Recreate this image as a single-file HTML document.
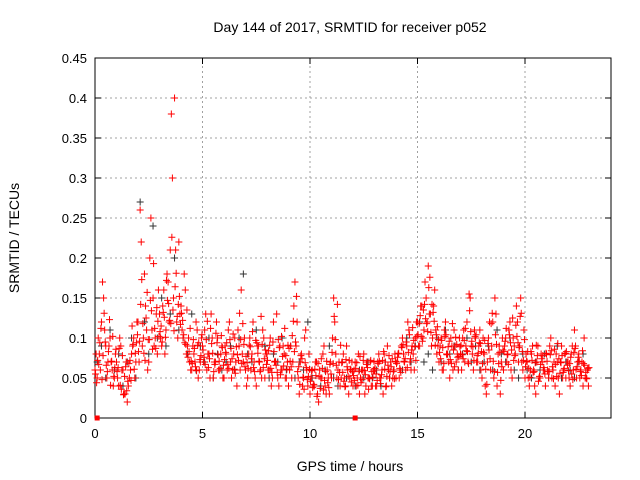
<!DOCTYPE html>
<html><head><meta charset="utf-8"><style>
body{margin:0;background:#fff;}
svg{display:block;font-family:"Liberation Sans",sans-serif;}
</style></head><body>
<svg id="chart" width="640" height="480" xmlns="http://www.w3.org/2000/svg">
<rect width="640" height="480" fill="#fff"/>
<g id="grid"></g><g id="axes"></g><g id="marks"></g>
<text x="350" y="32" text-anchor="middle" font-size="14">Day 144 of 2017, SRMTID for receiver p052</text>
<text x="350" y="471" text-anchor="middle" font-size="14">GPS time / hours</text>
<text transform="translate(19,238) rotate(-90)" text-anchor="middle" font-size="14">SRMTID / TECUs</text>
</svg>
<script>
const xTicks=[0,5,10,15,20];
const yTicks=[0,0.05,0.1,0.15,0.2,0.25,0.3,0.35,0.4,0.45];
const yTickLabels=["0","0.05","0.1","0.15","0.2","0.25","0.3","0.35","0.4","0.45"];
const red1=[.06,.05,.08,.12,.15,.09,.07,.10,.06,.05,
.07,.04,.09,.06,.03,.02,.05,.08,.10,.07,
.12,.26,.09,.18,.11,.07,.25,.15,.10,.08,
.13,.09,.16,.11,.17,.21,.30,.40,.12,.22,
.14,.10,.16,.09,.07,.06,.08,.12,.05,.07,
.09,.11,.06,.08,.13,.05,.07,.10,.06,.09,
.05,.08,.11,.07,.06,.10,.04,.09,.16,.07,
.06,.05,.10,.08,.07,.04,.09,.06,.11,.05,
.08,.06,.04,.12,.07,.05,.09,.06,.08,.05,
.04,.09,.07,.17,.12,.03,.08,.05,.11,.04,
.03,.06,.04,.07,.02,.05,.08,.04,.06,.03,
.05,.15,.08,.06,.04,.07,.05,.09,.03,.06,
.04,.07,.05,.03,.06,.08,.04,.05,.07,.04,
.06,.04,.08,.05,.03,.07,.09,.05,.04,.06,
.05,.08,.06,.10,.07,.09,.11,.06,.08,.10,
.12,.09,.14,.11,.15,.19,.13,.10,.16,.08,
.07,.10,.06,.12,.08,.05,.09,.11,.07,.06,
.08,.10,.07,.12,.155,.09,.06,.10,.07,.11,
.05,.08,.03,.10,.06,.12,.15,.04,.09,.07,
.06,.10,.08,.12,.05,.09,.14,.07,.15,.06,
.05,.07,.04,.08,.06,.03,.09,.05,.07,.06,
.08,.05,.10,.06,.04,.07,.03,.09,.06,.05,
.07,.04,.09,.11,.05,.08,.06,.04,.05,.06];
const red2=[.08,.10,.06,.17,.11,.05,.09,.07,.04,.08,
.05,.10,.06,.03,.07,.04,.06,.09,.05,.12,
.07,.22,.10,.14,.06,.20,.11,.09,.13,.16,
.10,.14,.08,.18,.12,.38,.15,.21,.10,.13,
.11,.18,.08,.10,.06,.09,.07,.11,.06,.10,
.07,.13,.08,.05,.10,.07,.12,.06,.08,.05,
.09,.06,.12,.05,.08,.07,.11,.06,.08,.10,
.04,.08,.06,.12,.05,.09,.07,.05,.10,.08,
.06,.10,.05,.07,.13,.04,.06,.09,.05,.07,
.06,.05,.14,.09,.05,.07,.04,.10,.06,.08,
.05,.04,.07,.03,.06,.05,.09,.03,.05,.07,
.10,.12,.05,.07,.05,.08,.04,.06,.05,.07,
.06,.04,.08,.05,.06,.03,.07,.05,.04,.06,
.04,.07,.05,.06,.08,.04,.06,.07,.05,.08,
.07,.05,.09,.08,.06,.12,.07,.09,.06,.12,
.09,.14,.10,.17,.12,.13,.09,.14,.11,.09,
.09,.06,.11,.08,.07,.10,.06,.09,.08,.10,
.06,.11,.09,.07,.15,.08,.11,.07,.09,.06,
.10,.04,.07,.12,.09,.05,.13,.08,.03,.10,
.09,.07,.11,.06,.10,.08,.12,.09,.07,.11,
.08,.05,.06,.09,.04,.07,.05,.08,.06,.04,
.06,.09,.05,.07,.08,.05,.07,.05,.08,.07,
.05,.08,.06,.09,.07,.05,.07,.10,.05,.04];
const red3=[.055,.072,.094,.048,.131,.066,.083,.041,.102,.063,
.058,.087,.036,.029,.064,.046,.072,.115,.061,.094,
.083,.142,.118,.072,.157,.098,.134,.193,.087,.121,
.108,.095,.126,.172,.143,.118,.135,.164,.127,.152,
.131,.104,.092,.076,.112,.068,.087,.059,.094,.078,
.085,.067,.121,.074,.093,.058,.106,.079,.062,.088,
.073,.094,.062,.087,.105,.056,.079,.131,.068,.092,
.077,.062,.089,.108,.058,.094,.071,.127,.063,.085,
.072,.091,.057,.083,.066,.098,.054,.077,.112,.061,
.087,.064,.121,.095,.058,.042,.074,.036,.063,.052,
.046,.038,.061,.027,.052,.074,.035,.058,.044,.067,
.082,.127,.066,.048,.091,.057,.039,.064,.072,.045,
.053,.062,.041,.077,.048,.059,.067,.036,.072,.051,
.062,.047,.071,.054,.083,.039,.066,.058,.074,.049,
.068,.081,.057,.092,.074,.063,.104,.085,.097,.072,
.104,.128,.096,.142,.118,.163,.107,.132,.091,.114,
.082,.097,.068,.104,.089,.073,.118,.064,.092,.077,
.091,.074,.112,.083,.134,.096,.072,.104,.081,.093,
.068,.097,.042,.085,.118,.071,.104,.057,.082,.064,
.083,.112,.067,.094,.125,.078,.102,.088,.131,.072,
.064,.083,.051,.072,.058,.091,.046,.067,.078,.055,
.071,.058,.084,.049,.067,.093,.056,.078,.062,.083,
.059,.076,.048,.087,.064,.071,.053,.068,.057,.062];
const red4=[.044,.067,.112,.078,.095,.058,.123,.071,.052,.086,
.063,.041,.078,.052,.034,.068,.047,.092,.081,.104,
.096,.173,.081,.125,.098,.147,.086,.112,.138,.102,
.115,.132,.101,.147,.122,.226,.109,.181,.142,.117,
.122,.094,.135,.083,.071,.098,.064,.091,.073,.104,
.076,.098,.063,.112,.081,.067,.094,.071,.103,.066,
.082,.067,.098,.074,.061,.089,.072,.098,.118,.064,
.069,.091,.074,.063,.097,.081,.058,.092,.074,.067,
.084,.062,.095,.071,.057,.088,.102,.065,.078,.091,
.071,.103,.083,.152,.064,.078,.051,.069,.048,.061,
.059,.042,.053,.068,.037,.062,.047,.071,.038,.055,
.068,.098,.142,.057,.069,.046,.073,.052,.061,.058,
.047,.069,.058,.044,.072,.054,.063,.049,.058,.071,
.055,.068,.043,.072,.061,.052,.078,.064,.058,.071,
.076,.062,.088,.071,.095,.082,.074,.113,.089,.102,
.118,.102,.135,.124,.108,.176,.142,.121,.104,.098,
.074,.088,.102,.079,.096,.068,.085,.101,.076,.089,
.079,.097,.084,.068,.108,.089,.102,.078,.094,.083,
.082,.061,.093,.074,.131,.058,.092,.068,.047,.085,
.096,.079,.104,.085,.072,.116,.094,.127,.083,.098,
.071,.062,.083,.057,.069,.078,.052,.074,.063,.081,
.058,.079,.064,.086,.052,.074,.069,.057,.081,.066,
.068,.055,.082,.061,.076,.058,.084,.066,.049,.063];
const black=[.07,.09,.05,.11,.06,.08,.04,.07,.10,.05,
.27,.12,.08,.24,.10,.15,.09,.13,.20,.11,
.10,.08,.13,.06,.09,.07,.10,.05,.08,.06,
.07,.09,.06,.10,.18,.08,.07,.11,.06,.09,
.05,.08,.07,.10,.06,.09,.05,.07,.06,.12,
.05,.07,.04,.06,.09,.05,.04,.07,.05,.06,
.04,.06,.05,.07,.05,.06,.04,.07,.05,.06,
.08,.06,.10,.07,.09,.12,.07,.08,.06,.10,
.07,.11,.08,.09,.06,.08,.10,.07,.09,.06,
.07,.09,.06,.11,.08,.07,.10,.06,.05,.08,
.06,.05,.07,.06,.08,.05,.06,.09,.05,.07,
.06,.05,.07,.08,.06];
const zeroTimes=[0.1,12.1];
const stepRed=0.1, stepBlack=0.2;
const X0=95,X1=611,Y0=418,Y1=58,XMAX=24,YMAX=0.45;
const sx=t=>X0+(X1-X0)*t/XMAX, sy=v=>Y0-(Y0-Y1)*v/YMAX;
const NS="http://www.w3.org/2000/svg";
function mk(tag,at,parent){const e=document.createElementNS(NS,tag);for(const k in at)e.setAttribute(k,at[k]);parent.appendChild(e);return e;}
const grid=document.getElementById('grid'),axes=document.getElementById('axes'),marks=document.getElementById('marks');
yTicks.forEach((v,i)=>{const y=sy(v);
 if(i>0&&i<yTicks.length-1){const g=mk('line',{x1:X0,x2:X1,y1:y,y2:y,stroke:'#a0a0a0','stroke-dasharray':'2,3'},grid);
 
 }
 mk('line',{x1:X0,x2:X0+6,y1:y,y2:y,stroke:'#000'},axes);
 mk('line',{x1:X1,x2:X1-6,y1:y,y2:y,stroke:'#000'},axes);
 const t=mk('text',{x:X0-8,y:y+5,'text-anchor':'end','font-size':'13'},axes);t.textContent=yTickLabels[i];
 
 });
xTicks.forEach(v=>{const x=sx(v);
 if(v>0){const g=mk('line',{x1:x,x2:x,y1:Y0,y2:Y1,stroke:'#a0a0a0','stroke-dasharray':'2,3'},grid);
 
 }
 mk('line',{x1:x,x2:x,y1:Y0,y2:Y0-6,stroke:'#000'},axes);
 mk('line',{x1:x,x2:x,y1:Y1,y2:Y1+6,stroke:'#000'},axes);
 const t=mk('text',{x:x,y:Y0+20,'text-anchor':'middle','font-size':'13'},axes);t.textContent=String(v);
 
 });
const frame=mk('rect',{x:X0,y:Y1,width:X1-X0,height:Y0-Y1,fill:'none',stroke:'#000'},axes);


function plus(t,v,col,name){const x=sx(t),y=sy(v);
 const p=mk('path',{d:`M${x-3.5},${y}h7M${x},${y-3.5}v7`,stroke:col,'stroke-width':1,fill:'none'},marks);
 
 }
black.forEach((v,i)=>plus(i*stepBlack+0.1,v,'#333','black-point'));
red1.forEach((v,i)=>plus(i*stepRed,v,'#ff0000','red-point'));
red2.forEach((v,i)=>plus(i*stepRed+0.05,v,'#ff0000','red-point'));
red3.forEach((v,i)=>plus(i*stepRed+0.025,v,'#ff0000','red-point'));
red4.forEach((v,i)=>plus(i*stepRed+0.075,v,'#ff0000','red-point'));
zeroTimes.forEach(t=>{const r=mk('rect',{x:sx(t)-2.5,y:sy(0)-2.5,width:5,height:5,fill:'#ff0000'},marks);
 
 });
</script>
</body></html>
